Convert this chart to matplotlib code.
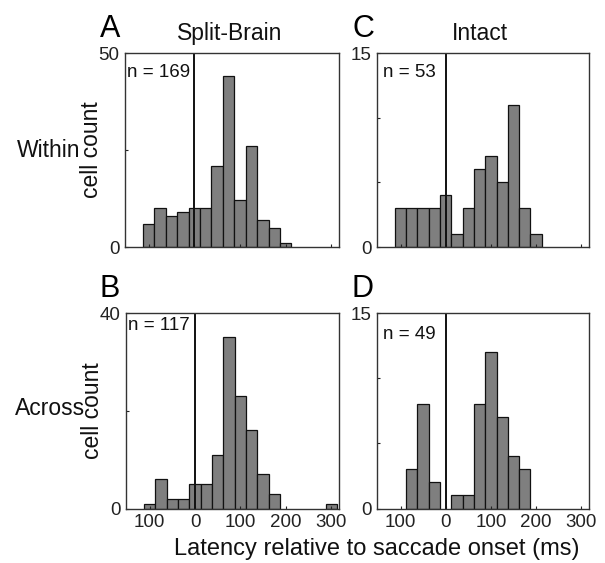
import matplotlib
matplotlib.use('Agg')
import matplotlib.pyplot as plt

plt.rcParams['font.family'] = ['Liberation Sans', 'DejaVu Sans']

# histogram data (bin centres in ms, 25 ms bins)
a_centers = [-100, -75, -50, -25, 0, 25, 50, 75, 100, 125, 150, 175, 200]
a_counts = [6, 10, 8, 9, 10, 10, 21, 44, 12, 26, 7, 5, 1]
b_centers = [-100, -75, -50, -25, 0, 25, 50, 75, 100, 125, 150, 175, 300]
b_counts = [1, 6, 2, 2, 5, 5, 11, 35, 23, 16, 7, 3, 1]
c_centers = [-100, -75, -50, -25, 0, 25, 50, 75, 100, 125, 150, 175, 200]
c_counts = [3, 3, 3, 3, 4, 1, 3, 6, 7, 5, 11, 3, 1]
d_centers = [-75, -50, -25, 25, 50, 75, 100, 125, 150, 175]
d_counts = [3, 8, 2, 1, 1, 8, 12, 7, 4, 3]

n_labels = ['n = 169', 'n = 117', 'n = 53', 'n = 49']
ymax = [50, 40, 15, 15]
yticks = [[0, 25, 50], [0, 20, 40], [0, 5, 10, 15], [0, 5, 10, 15]]
xticks = [-100, 0, 100, 200, 300]
xticklabels = ['100', '0', '100', '200', '300']

W, H = 605, 563
fig = plt.figure(figsize=(W / 100, H / 100), dpi=100)


def rect(x0, y0, x1, y1):
    # pixel box -> figure fraction
    return [x0 / W, 1 - y1 / H, (x1 - x0) / W, (y1 - y0) / H]


def px(x, y):
    return x / W, 1 - y / H


boxes = [rect(125, 53, 339, 247), rect(126, 313, 339, 508.5),
         rect(377, 53, 589, 247), rect(377, 313, 589, 508.5)]
data = [(a_centers, a_counts), (b_centers, b_counts),
        (c_centers, c_counts), (d_centers, d_counts)]
ntext_pos = [(127, 77), (128, 330), (383, 77), (383, 339)]

for i in range(4):
    ax = fig.add_axes(boxes[i])
    centers, counts = data[i]
    ax.bar(centers, counts, width=25, color='#7f7f7f', edgecolor='#111111', linewidth=0.9)
    ax.axvline(0, color='#111111', lw=1.4)
    ax.set_xlim(-152, 317)
    ax.set_ylim(0, ymax[i])
    ax.set_yticks(yticks[i])
    ax.set_yticklabels([str(t) if t in (0, ymax[i]) else '' for t in yticks[i]])
    ax.set_xticks(xticks)
    if i in (1, 3):
        ax.set_xticklabels(xticklabels)
    else:
        ax.set_xticklabels([])
    ax.tick_params(direction='in', length=2.5, width=0.8, labelsize=13.5, pad=4,
                   colors='#222222')
    for s in ax.spines.values():
        s.set_color('#333333')
        s.set_linewidth(1.0)
    if i in (0, 1):
        ax.set_ylabel('cell count', fontsize=16.5, color='#111111')
        ax.yaxis.set_label_coords(-0.105, 0.5)
    x, y = ntext_pos[i]
    fig.text(*px(x, y), n_labels[i], fontsize=13.5, color='#111111', va='baseline')

# panel letters and titles
fig.text(*px(110, 37), 'A', fontsize=22, ha='center', va='baseline')
fig.text(*px(110, 297), 'B', fontsize=22, ha='center', va='baseline')
fig.text(*px(363, 37), 'C', fontsize=22, ha='center', va='baseline')
fig.text(*px(362, 297), 'D', fontsize=22, ha='center', va='baseline')
fig.text(*px(230, 40), 'Split-Brain', fontsize=16.5, ha='center', va='baseline', color='#111111')
fig.text(*px(480, 40), 'Intact', fontsize=16.5, ha='center', va='baseline', color='#111111')
fig.text(*px(80, 157), 'Within', fontsize=16.5, ha='right', va='baseline', color='#111111')
fig.text(*px(85, 415), 'Across', fontsize=16.5, ha='right', va='baseline', color='#111111')
fig.text(*px(377, 549), 'Latency relative to saccade onset (ms)', fontsize=17,
         ha='center', va='center', color='#111111')

fig.savefig('out.png', dpi=100)
